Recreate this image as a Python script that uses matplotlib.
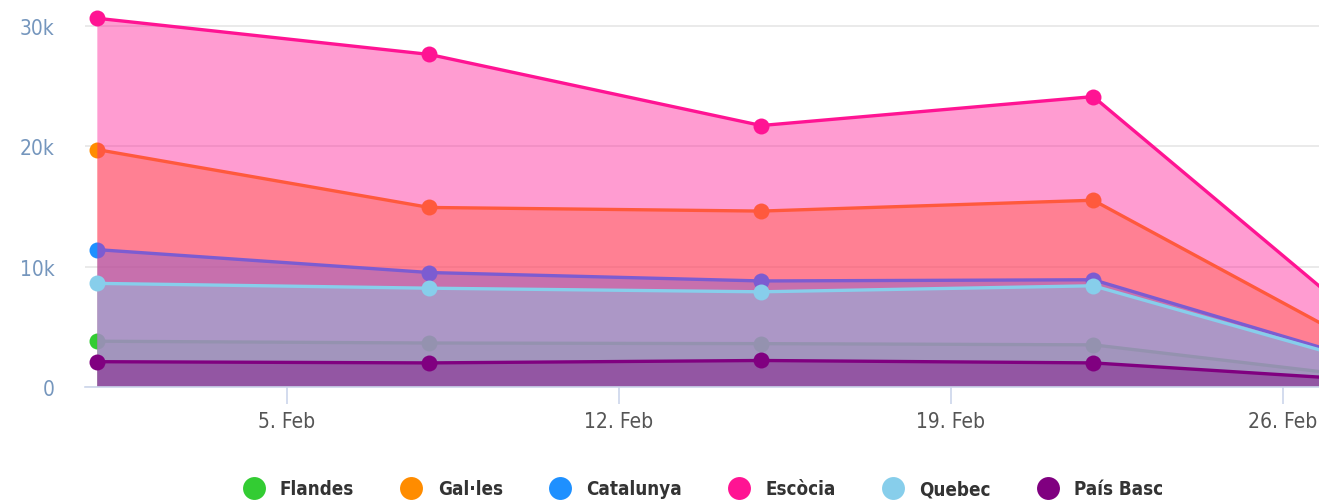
import matplotlib
matplotlib.use("Agg")
import matplotlib.pyplot as plt
from matplotlib.lines import Line2D
from matplotlib.font_manager import FontProperties
import datetime as dt

plt.rcParams['font.family'] = ['DejaVu Sans']
plt.rcParams['font.stretch'] = 'condensed'

dates = [dt.datetime(2018, 2, 1), dt.datetime(2018, 2, 8), dt.datetime(2018, 2, 15),
         dt.datetime(2018, 2, 22), dt.datetime(2018, 3, 1)]
series_names = ["Flandes", "Gal·les", "Catalunya", "Escòcia", "Quebec", "País Basc"]
series_colors = ["#33cc33", "#ff8c00", "#1e90ff", "#ff1493", "#87ceeb", "#800080"]
flandes = [3800, 3650, 3600, 3500, 250]
galles = [19700, 14900, 14600, 15500, 600]
catalunya = [11400, 9500, 8800, 8900, 700]
escocia = [30600, 27600, 21700, 24100, 1000]
quebec = [8600, 8200, 7900, 8400, 600]
pais_basc = [2100, 2000, 2200, 2000, 270]
values = [flandes, galles, catalunya, escocia, quebec, pais_basc]
x_ticks = [dt.datetime(2018, 2, 5), dt.datetime(2018, 2, 12), dt.datetime(2018, 2, 19), dt.datetime(2018, 2, 26)]
x_tick_labels = ["5. Feb", "12. Feb", "19. Feb", "26. Feb"]
y_ticks = [0, 10000, 20000, 30000]
y_tick_labels = ["0", "10k", "20k", "30k"]

fig = plt.figure(figsize=(13.19, 5.02), dpi=100)
ax = fig.add_axes([85 / 1319, 1 - 388 / 502, 1 - 85 / 1319, 388 / 502])

for i, (name, col, vals) in enumerate(zip(series_names, series_colors, values)):
    z = 2 + i * 3
    ax.fill_between(dates, 0, vals, color=col, alpha=0.42, linewidth=0, zorder=z)
    ax.plot(dates, vals, color=col, linewidth=2.4, zorder=z + 1, solid_capstyle='round')
    ax.plot(dates, vals, linestyle='none', marker='o', markersize=11.5,
            color=col, markeredgewidth=0, zorder=z + 2)

ax.set_xlim(dt.datetime(2018, 2, 1) - dt.timedelta(days=0.26),
            dt.datetime(2018, 2, 26) + dt.timedelta(days=0.76))
ax.set_ylim(0, 32200)

ax.set_xticks(x_ticks)
ax.set_xticklabels(x_tick_labels)
ax.set_yticks(y_ticks)
ax.set_yticklabels(y_tick_labels)

ax.grid(axis='y', color='#e6e6e6', linewidth=1.2, zorder=0)
ax.set_axisbelow(True)
for s in ['top', 'right', 'left']:
    ax.spines[s].set_visible(False)
ax.spines['bottom'].set_color('#ccd6eb')
ax.spines['bottom'].set_linewidth(1.2)
ax.spines['bottom'].set_zorder(30)

ax.tick_params(axis='y', length=0, pad=22, labelsize=15, labelcolor='#7596bd')
ax.tick_params(axis='x', length=12, width=1.2, color='#ccd6eb', pad=5,
               labelsize=15, labelcolor='#555555')
ax.set_facecolor('white')

handles = [Line2D([0], [0], marker='o', linestyle='none', markersize=16.5,
                  markerfacecolor=c, markeredgewidth=0, label=n)
           for n, c in zip(series_names, series_colors)]
leg = fig.legend(handles=handles, loc='center', bbox_to_anchor=(0.53, 1 - 490 / 502),
                 ncol=6, frameon=False, handletextpad=0.4, columnspacing=2.05,
                 prop=FontProperties(family='DejaVu Sans', stretch='condensed', weight='bold', size=13.5))
for t in leg.get_texts():
    t.set_color('#333333')

fig.savefig("out.png", dpi=100, facecolor='white')
